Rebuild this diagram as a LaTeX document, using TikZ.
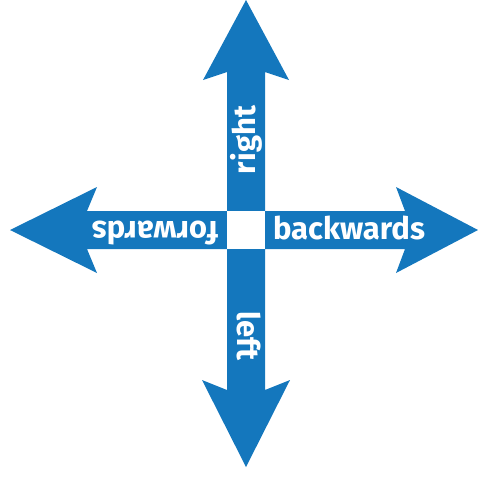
\documentclass[tikz,border=0pt]{standalone}
\usepackage{fontspec}
\setmainfont{Fira Sans}
\definecolor{arrowblue}{RGB}{20,119,189}
\begin{document}
\begin{tikzpicture}[x=1pt,y=-1pt,
  lbl/.style={text=white,font=\fontsize{31}{31}\selectfont\bfseries,inner sep=0pt,outer sep=0pt}]
\useasboundingbox (0,0) rectangle (478,477);
% cross with four arrow heads
\fill[arrowblue] (246,0) -- (289,80) -- (265,72) -- (265,211) -- (405,211) -- (396,187)
  -- (478,230) -- (396,273) -- (405,249) -- (265,249) -- (265,390) -- (290,380)
  -- (246,467) -- (202,380) -- (227,390) -- (227,249) -- (87,249) -- (97,273)
  -- (10,230) -- (97,187) -- (87,211) -- (227,211) -- (227,72) -- (203,80) -- cycle;
% white centre square
\fill[white] (227,211) rectangle (265,249);
% labels
\node[lbl,anchor=base west] (bw) at (273,239) {backwards};
\node[lbl,anchor=base west,rotate=180] (fw) at (218,221) {forwards};
\node[lbl,anchor=base west,rotate=90] (rt) at (255,174) {right};
\node[lbl,anchor=base west,rotate=-90] (lf) at (237,311) {left};
\end{tikzpicture}
\end{document}
